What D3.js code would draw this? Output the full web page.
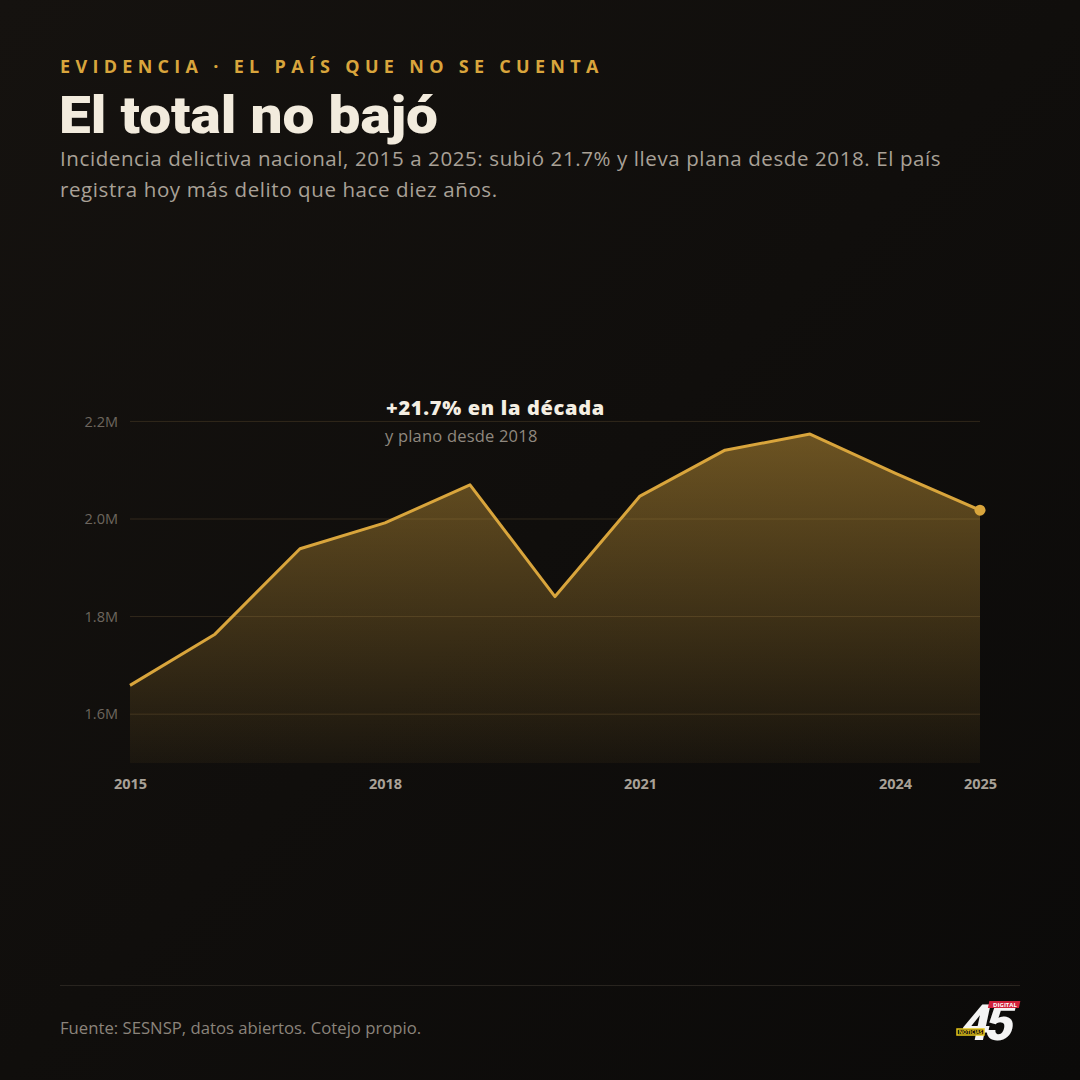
<!DOCTYPE html>
<html lang="es">
<head>
<meta charset="UTF-8">
<title>El total no bajó</title>
<script src="https://d3js.org/d3.v7.min.js"></script>
<style>
  html, body { margin: 0; padding: 0; background: #0d0c0b; }
  svg { display: block; }
</style>
</head>
<body>
<svg id="chart" width="1080" height="1080"></svg>
<script>
// Incidencia delictiva nacional (millones de delitos), lectura del gráfico
const years = [2015, 2016, 2017, 2018, 2019, 2020, 2021, 2022, 2023, 2024, 2025];
const totals = [1.659, 1.764, 1.939, 1.992, 2.070, 1.841, 2.047, 2.141, 2.174, 2.094, 2.018];
const yTicks = [1.6, 1.8, 2.0, 2.2];
const xTicks = [2015, 2018, 2021, 2024, 2025];

const gold = "#d9a53c";
const svg = d3.select("#chart");

// fondo
const bg = svg.append("defs").append("linearGradient")
    .attr("id", "bg").attr("x1", 0).attr("y1", 0).attr("x2", 1).attr("y2", 1);
bg.append("stop").attr("offset", 0).attr("stop-color", "#15120f");
bg.append("stop").attr("offset", 1).attr("stop-color", "#0b0a09");
svg.append("rect").attr("width", 1080).attr("height", 1080).attr("fill", "url(#bg)");

// encabezado
svg.append("text")
    .attr("x", 60).attr("y", 73)
    .attr("fill", gold)
    .style("font", "700 18px 'Open Sans', sans-serif")
    .style("letter-spacing", "5.3px")
    .text("EVIDENCIA · EL PAÍS QUE NO SE CUENTA");

svg.append("text")
    .attr("x", 59).attr("y", 133)
    .attr("fill", "#f2ebdd")
    .attr("textLength", 379).attr("lengthAdjust", "spacingAndGlyphs")
    .style("font", "900 52px Roboto, 'Open Sans', sans-serif")
    .text("El total no bajó");

const sub = svg.append("text")
    .attr("fill", "#a9a197")
    .style("font", "400 20.5px 'Open Sans', sans-serif")
    .style("letter-spacing", "0.6px");
sub.append("tspan").attr("x", 60).attr("y", 166)
    .text("Incidencia delictiva nacional, 2015 a 2025: subió 21.7% y lleva plana desde 2018. El país");
sub.append("tspan").attr("x", 60).attr("y", 197)
    .text("registra hoy más delito que hace diez años.");

// escalas
const x = d3.scaleLinear().domain([2015, 2025]).range([130, 980]);
const y = d3.scaleLinear().domain([1.5, 2.25]).range([763, 397]);

// rejilla
svg.append("g").selectAll("line")
    .data(yTicks).join("line")
    .attr("x1", x(2015)).attr("x2", x(2025))
    .attr("y1", d => y(d)).attr("y2", d => y(d))
    .attr("stroke", "#3a3226").attr("stroke-opacity", 0.55).attr("stroke-width", 1);

const yAxis = d3.axisLeft(y).tickValues(yTicks).tickSize(0).tickPadding(12)
    .tickFormat(d => d3.format(".1f")(d) + "M");
svg.append("g")
    .attr("transform", `translate(${x(2015)},0)`)
    .call(yAxis)
    .call(g => g.select(".domain").remove())
    .call(g => g.selectAll("text")
        .attr("fill", "#6d665e")
        .style("font", "400 14.5px 'Open Sans', sans-serif"));

// área con degradado
const data = years.map((yr, i) => ({ year: yr, value: totals[i] }));
const grad = svg.select("defs").append("linearGradient")
    .attr("id", "fill").attr("gradientUnits", "userSpaceOnUse")
    .attr("x1", 0).attr("x2", 0)
    .attr("y1", y(d3.max(totals))).attr("y2", y(1.5));
grad.append("stop").attr("offset", 0).attr("stop-color", gold).attr("stop-opacity", 0.46);
grad.append("stop").attr("offset", 1).attr("stop-color", gold).attr("stop-opacity", 0.05);

const area = d3.area().x(d => x(d.year)).y0(y(1.5)).y1(d => y(d.value));
const line = d3.line().x(d => x(d.year)).y(d => y(d.value));

svg.append("path").datum(data).attr("d", area).attr("fill", "url(#fill)");

// rejilla tenue encima del área
svg.append("g").selectAll("line")
    .data(yTicks).join("line")
    .attr("x1", x(2015)).attr("x2", x(2025))
    .attr("y1", d => y(d)).attr("y2", d => y(d))
    .attr("stroke", "#d9a53c").attr("stroke-opacity", 0.06);

svg.append("path").datum(data).attr("d", line)
    .attr("fill", "none").attr("stroke", gold)
    .attr("stroke-width", 3).attr("stroke-linejoin", "round");

const last = data[data.length - 1];
svg.append("circle")
    .attr("cx", x(last.year)).attr("cy", y(last.value)).attr("r", 5.5)
    .attr("fill", gold);

// eje x
const xAxis = d3.axisBottom(x).tickValues(xTicks).tickSize(0).tickPadding(16)
    .tickFormat(d3.format("d"));
svg.append("g")
    .attr("transform", `translate(0,${y(1.5)})`)
    .call(xAxis)
    .call(g => g.select(".domain").remove())
    .call(g => g.selectAll("text")
        .attr("fill", "#a9a197")
        .style("font", "700 14.5px 'Open Sans', sans-serif"));

// anotación
svg.append("text")
    .attr("x", x(2018) + 1).attr("y", 415)
    .attr("fill", "#f4eee2")
    .style("font", "800 20px 'Open Sans', sans-serif")
    .style("letter-spacing", "0.7px")
    .text("+21.7% en la década");
svg.append("text")
    .attr("x", x(2018)).attr("y", 442)
    .attr("fill", "#8f887f")
    .style("font", "400 16.5px 'Open Sans', sans-serif")
    .style("letter-spacing", "0.2px")
    .text("y plano desde 2018");

// pie
svg.append("line")
    .attr("x1", 60).attr("x2", 1020).attr("y1", 985.5).attr("y2", 985.5)
    .attr("stroke", "#28241f").attr("stroke-width", 1);
svg.append("text")
    .attr("x", 60).attr("y", 1034)
    .attr("fill", "#8b847b")
    .style("font", "400 16.7px 'Open Sans', sans-serif")
    .text("Fuente: SESNSP, datos abiertos. Cotejo propio.");

// logotipo
const logo = svg.append("g").attr("transform", "translate(956,998)");
logo.append("text")
    .attr("x", 12).attr("y", 42)
    .attr("fill", "#f4f4f4")
    .attr("transform", "skewX(-12)")
    .style("font", "900 50px Roboto, sans-serif")
    .style("letter-spacing", "-5px")
    .text("45");
logo.append("rect").attr("x", 34).attr("y", 3).attr("width", 31).attr("height", 7)
    .attr("fill", "#d0213a").attr("transform", "skewX(-12)");
logo.append("text").attr("x", 49).attr("y", 9).attr("text-anchor", "middle")
    .attr("fill", "#fff").style("font", "700 6px 'Open Sans', sans-serif")
    .text("DIGITAL");
logo.append("rect").attr("x", 1).attr("y", 31).attr("width", 27).attr("height", 6)
    .attr("fill", "#111").attr("stroke", "#e8c81a").attr("stroke-width", 1.5);
logo.append("text").attr("x", 14.5).attr("y", 36).attr("text-anchor", "middle")
    .attr("fill", "#e8c81a").style("font", "700 5px 'Open Sans', sans-serif")
    .text("NOTICIAS");
</script>
</body>
</html>
